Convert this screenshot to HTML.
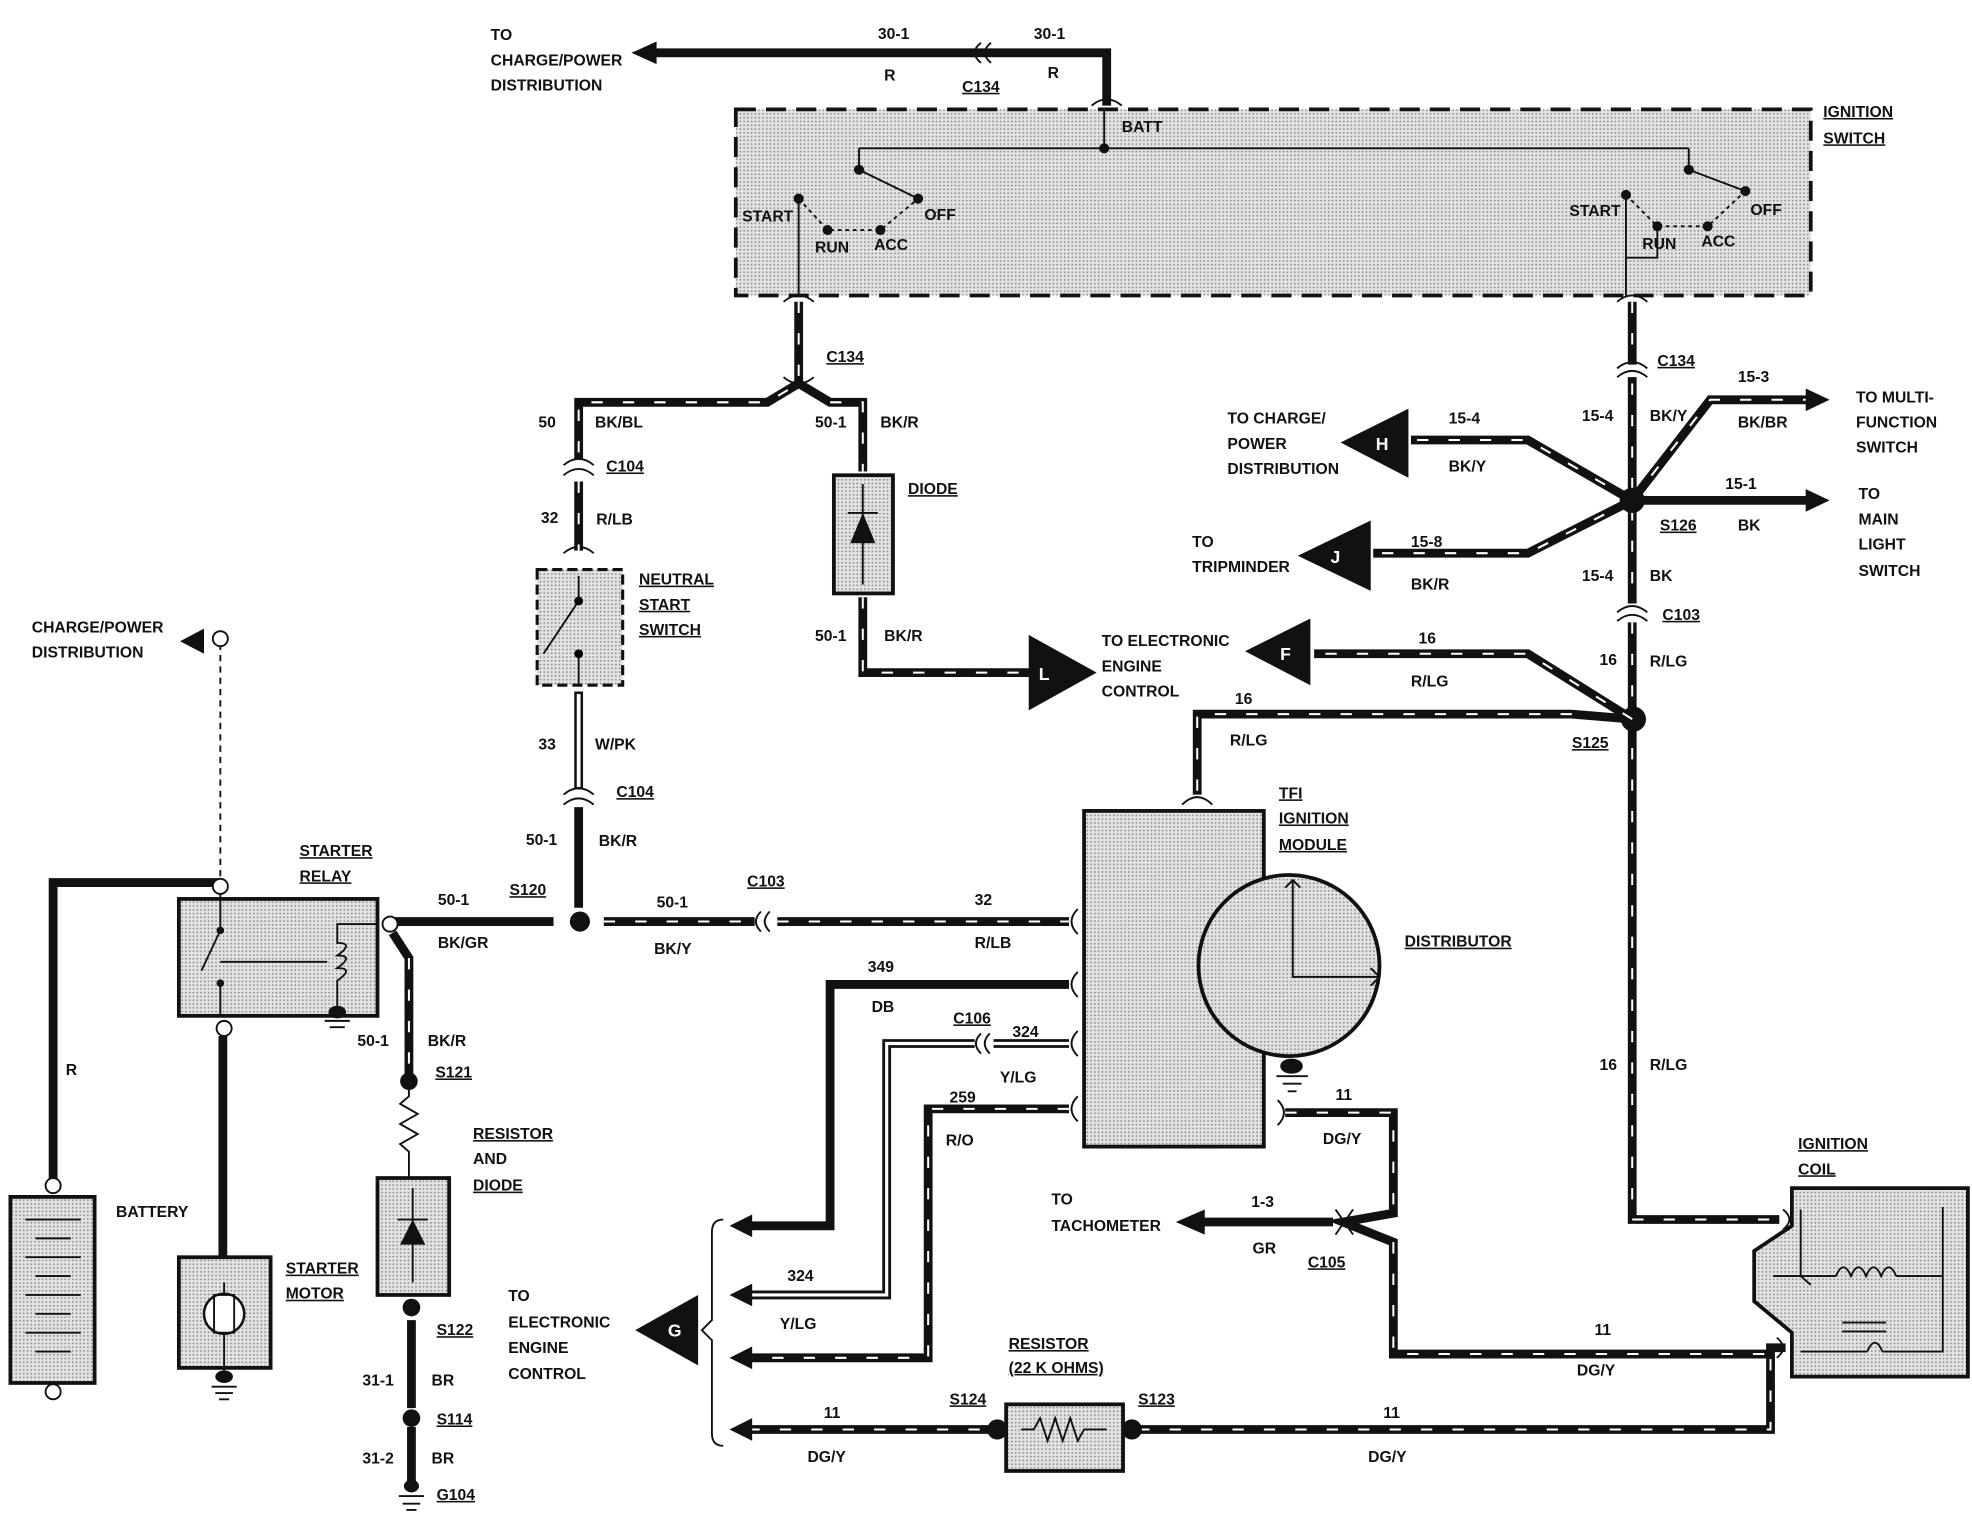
<!DOCTYPE html>
<html><head><meta charset="utf-8"><style>
html,body{margin:0;padding:0;background:#fff}
svg{display:block}
text{font-family:"Liberation Sans",sans-serif;font-weight:bold;font-size:12.5px;fill:#111}
.w{stroke:#111;stroke-width:7;fill:none;stroke-linejoin:miter}
.t{stroke:#fff;stroke-width:1.6;fill:none;stroke-dasharray:9 16}
.th{stroke:#111;stroke-width:1.5;fill:none}
.box{fill:url(#dots);stroke:#111;stroke-width:3}
.u{text-decoration:underline}
</style></head><body>
<svg width="1972" height="1520" viewBox="0 0 1568 1209" xmlns="http://www.w3.org/2000/svg">
<defs>
<pattern id="dots" width="3" height="3" patternUnits="userSpaceOnUse"><rect width="3" height="3" fill="#e2e2e2"/><rect width="1.2" height="1.2" fill="#888"/></pattern>
</defs>

<!-- Ignition switch -->
<rect x="585" y="87" width="855" height="148" fill="url(#dots)" stroke="#111" stroke-width="3" stroke-dasharray="16 8"/>
<text x="1450" y="93" class="u">IGNITION</text><text x="1450" y="114" class="u">SWITCH</text>
<path class="th" d="M878 118V88M683 118H1343M683 118V135L730 158M1343 118V135L1388 152"/>
<path class="th" stroke-dasharray="3 3" d="M635 158L658 183H700L730 158M1293 155L1318 180H1358L1388 152"/>
<g fill="#111"><circle cx="635" cy="158" r="4"/><circle cx="658" cy="183" r="4"/><circle cx="700" cy="183" r="4"/><circle cx="730" cy="158" r="4"/><circle cx="878" cy="118" r="4"/><circle cx="683" cy="135" r="4"/>
<circle cx="1293" cy="155" r="4"/><circle cx="1318" cy="180" r="4"/><circle cx="1358" cy="180" r="4"/><circle cx="1388" cy="152" r="4"/><circle cx="1343" cy="135" r="4"/></g>
<path class="th" d="M635 158V235M1293 155V235M1293 205H1318V180"/>
<text x="590" y="176">START</text><text x="648" y="201">RUN</text><text x="695" y="199">ACC</text><text x="735" y="175">OFF</text>
<text x="1248" y="172">START</text><text x="1306" y="198">RUN</text><text x="1353" y="196">ACC</text><text x="1392" y="171">OFF</text>
<text x="892" y="105">BATT</text>

<!-- top wire -->
<path class="w" d="M880 84V42H520"/>
<polygon points="502,42 522,33 522,51" fill="#111"/>
<path class="th" stroke-width="3" d="M780 34q-10 8 0 16M788 34q-10 8 0 16M868 84q12-10 24 0"/>
<text x="390" y="32">TO</text><text x="390" y="52">CHARGE/POWER</text><text x="390" y="72">DISTRIBUTION</text>
<text x="698" y="31">30-1</text><text x="822" y="31">30-1</text><text x="703" y="64">R</text><text x="833" y="62">R</text><text x="765" y="73" class="u">C134</text>

<!-- left column -->
<path class="w" d="M635 240V305L610 320H460V365M635 305L660 320H686V375"/>
<path class="t" d="M635 240V305L610 320H460V365M660 320H686V375"/>
<path class="th" stroke-width="3" d="M623 240q12-10 24 0M623 300q12 10 24 0M623 310q12-10 24 0M448 370q12-10 24 0M448 378q12-10 24 0M448 440q12-10 24 0"/>
<text x="657" y="288" class="u">C134</text><text x="428" y="340">50</text><text x="473" y="340">BK/BL</text><text x="648" y="340">50-1</text><text x="700" y="340">BK/R</text>
<path class="w" d="M460 383V438"/><path class="t" d="M460 383V438"/>
<text x="482" y="375" class="u">C104</text><text x="430" y="416">32</text><text x="474" y="417">R/LB</text>
<rect x="427" y="453" width="68" height="92" fill="url(#dots)" stroke="#111" stroke-width="2.5" stroke-dasharray="8 4"/>
<path class="th" d="M460 458V478M460 478L432 520M460 520V545"/><circle cx="460" cy="478" r="3.5"/><circle cx="460" cy="520" r="3.5"/>
<text x="508" y="465" class="u">NEUTRAL</text><text x="508" y="485" class="u">START</text><text x="508" y="505" class="u">SWITCH</text>
<path class="w" d="M460 550V628"/><path stroke="#fff" stroke-width="3" d="M460 552V626"/>
<path class="th" stroke-width="3" d="M448 632q12-10 24 0M448 640q12-10 24 0"/>
<path class="w" d="M460 642V722"/>
<text x="428" y="596">33</text><text x="473" y="596">W/PK</text><text x="490" y="634" class="u">C104</text>
<text x="418" y="672">50-1</text><text x="476" y="673">BK/R</text>
<circle cx="461" cy="733" r="8" fill="#111"/><text x="405" y="712" class="u">S120</text>

<!-- diode -->
<rect x="663" y="378" width="47" height="94" class="box"/>
<polygon points="686,408 676,432 696,432" fill="#111"/><path class="th" stroke-width="2" d="M674 408H698M686 385V465"/>
<text x="722" y="393" class="u">DIODE</text>
<path class="w" d="M686 475V535H820"/><path class="t" d="M686 475V535H820"/>
<text x="648" y="510">50-1</text><text x="703" y="510">BK/R</text>
<polygon points="818,505 818,565 872,535" fill="#111"/><text x="826" y="541" style="fill:#fff;font-size:14px">L</text>
<text x="876" y="514">TO ELECTRONIC</text><text x="876" y="534">ENGINE</text><text x="876" y="554">CONTROL</text>

<!-- right column -->
<path class="w" d="M1298 240V290M1298 300V480M1298 495V970H1415"/>
<path class="t" d="M1298 240V290M1298 305V480M1298 495V970H1415"/>
<path class="th" stroke-width="3" d="M1286 240q12-10 24 0M1286 293q12-10 24 0M1286 300q12-10 24 0M1286 487q12-10 24 0M1286 494q12-10 24 0"/>
<path class="w" d="M1298 398L1215 350H1122M1298 398L1215 440H1092M1298 398L1360 318H1440M1298 398H1440"/>
<path class="t" d="M1298 398L1215 350H1122M1298 398L1215 440H1092M1298 398L1360 318H1440"/>
<polygon points="1455,318 1436,309 1436,327" fill="#111"/><polygon points="1455,398 1436,389 1436,407" fill="#111"/>
<circle cx="1298" cy="398" r="10" fill="#111"/>
<polygon points="1066,352 1120,325 1120,380" fill="#111"/><text x="1094" y="358" style="fill:#fff;font-size:14px">H</text>
<polygon points="1032,442 1090,414 1090,470" fill="#111"/><text x="1058" y="448" style="fill:#fff;font-size:14px">J</text>
<text x="1318" y="291" class="u">C134</text><text x="1258" y="335">15-4</text><text x="1312" y="335">BK/Y</text>
<text x="1382" y="304">15-3</text><text x="1382" y="340">BK/BR</text><text x="1476" y="320">TO MULTI-</text><text x="1476" y="340">FUNCTION</text><text x="1476" y="360">SWITCH</text>
<text x="1372" y="389">15-1</text><text x="1382" y="422">BK</text><text x="1478" y="397">TO</text><text x="1478" y="417">MAIN</text><text x="1478" y="437">LIGHT</text><text x="1478" y="458">SWITCH</text>
<text x="1320" y="422" class="u">S126</text>
<text x="976" y="337">TO CHARGE/</text><text x="976" y="357">POWER</text><text x="976" y="377">DISTRIBUTION</text>
<text x="1152" y="337">15-4</text><text x="1152" y="375">BK/Y</text>
<text x="948" y="435">TO</text><text x="948" y="455">TRIPMINDER</text><text x="1122" y="435">15-8</text><text x="1122" y="469">BK/R</text>
<text x="1258" y="462">15-4</text><text x="1312" y="462">BK</text><text x="1322" y="493" class="u">C103</text>
<text x="1272" y="529">16</text><text x="1312" y="530">R/LG</text>
<circle cx="1299" cy="572" r="10" fill="#111"/><text x="1250" y="595" class="u">S125</text>
<path class="w" d="M1298 572L1215 520H1045M1298 572L1250 568H952V632"/>
<path class="t" d="M1298 572L1215 520H1045M1250 568H952V632"/>
<polygon points="990,518 1042,492 1042,545" fill="#111"/><text x="1018" y="525" style="fill:#fff;font-size:14px">F</text>
<text x="1128" y="512">16</text><text x="1122" y="546">R/LG</text><text x="982" y="560">16</text><text x="978" y="593">R/LG</text>
<path class="th" stroke-width="3" d="M940 640q12-12 24 0"/>
<text x="1272" y="851">16</text><text x="1312" y="851">R/LG</text>

<!-- TFI -->
<rect x="862" y="645" width="143" height="267" class="box"/>
<circle cx="1025" cy="768" r="72" class="box"/>
<path class="th" stroke-width="2" d="M1028 700V777H1097M1022 706L1028 700L1034 706M1090 770L1097 777L1090 784"/>
<ellipse cx="1027" cy="848" rx="9" ry="6" fill="#111"/><path class="th" stroke-width="2" d="M1015 856H1040M1020 862H1035M1024 868H1031"/>
<text x="1017" y="635" class="u">TFI</text><text x="1017" y="655" class="u">IGNITION</text><text x="1017" y="676" class="u">MODULE</text>
<text x="1117" y="753" class="u">DISTRIBUTOR</text>

<!-- left TFI wires -->
<path class="w" d="M310 733H440M480 733H600M618 733H850"/><path class="t" d="M480 733H600M618 733H850"/>
<path class="th" stroke-width="3" d="M605 725q-8 8 0 16M612 725q-8 8 0 16M857 723q-10 10 0 20"/>
<text x="348" y="720">50-1</text><text x="348" y="754">BK/GR</text><text x="522" y="722">50-1</text><text x="520" y="759">BK/Y</text><text x="594" y="705" class="u">C103</text><text x="775" y="720">32</text><text x="775" y="754">R/LB</text>
<path class="w" d="M850 783H660V975H595"/><polygon points="580,975 598,966 598,984" fill="#111"/>
<path class="th" stroke-width="3" d="M857 773q-10 10 0 20"/>
<text x="690" y="773">349</text><text x="693" y="805">DB</text>
<path class="w" d="M850 830H790M775 830H705V1030H595"/><path stroke="#fff" stroke-width="2.5" fill="none" d="M850 830H790M775 830H705V1030H595"/>
<polygon points="580,1030 598,1021 598,1039" fill="#111"/>
<path class="th" stroke-width="3" d="M780 822q-8 8 0 16M787 822q-8 8 0 16M857 820q-10 10 0 20"/>
<text x="758" y="814" class="u">C106</text><text x="805" y="825">324</text><text x="795" y="861">Y/LG</text><text x="626" y="1019">324</text><text x="620" y="1057">Y/LG</text>
<path class="w" d="M850 882H738V1080H595"/><path class="t" d="M850 882H738V1080H595"/><polygon points="580,1080 598,1071 598,1089" fill="#111"/>
<path class="th" stroke-width="3" d="M857 872q-10 10 0 20"/>
<text x="755" y="877">259</text><text x="752" y="911">R/O</text>
<path class="w" d="M595 1137H800M905 1137H1408V1072H1420"/><path class="t" d="M595 1137H800M905 1137H1408V1072"/>
<polygon points="580,1137 598,1128 598,1146" fill="#111"/>
<text x="655" y="1128">11</text><text x="642" y="1163">DG/Y</text><text x="1100" y="1128">11</text><text x="1088" y="1163">DG/Y</text>
<text x="755" y="1117" class="u">S124</text><text x="905" y="1117" class="u">S123</text>
<rect x="800" y="1117" width="93" height="53" class="box"/>
<path class="th" stroke-width="2" d="M812 1137H822L827 1128L833 1146L839 1128L845 1146L851 1128L857 1146L862 1137H880"/>
<circle cx="793" cy="1137" r="8" fill="#111"/><circle cx="900" cy="1137" r="8" fill="#111"/>
<text x="802" y="1073" class="u">RESISTOR</text><text x="802" y="1092" class="u">(22 K OHMS)</text>
<path class="th" stroke-width="2" d="M575 970Q566 970 566 980V1050L558 1058L566 1066V1140Q566 1150 575 1150"/>
<polygon points="505,1058 555,1030 555,1086" fill="#111"/><text x="531" y="1063" style="fill:#fff;font-size:14px">G</text>
<text x="404" y="1035">TO</text><text x="404" y="1056">ELECTRONIC</text><text x="404" y="1076">ENGINE</text><text x="404" y="1097">CONTROL</text>

<!-- 11 distributor / tach -->
<path class="w" d="M1022 885H1108V965L1068 972L1108 988V1077H1410"/><path class="t" d="M1022 885H1108V965M1108 988V1077H1410"/>
<path class="th" stroke-width="3" d="M1016 875q10 10 0 20M1062 962l14 20M1062 982l14-20"/>
<path class="w" d="M1060 972H955"/><polygon points="935,972 958,962 958,982" fill="#111"/>
<text x="1062" y="875">11</text><text x="1052" y="910">DG/Y</text><text x="836" y="958">TO</text><text x="836" y="979">TACHOMETER</text>
<text x="995" y="960">1-3</text><text x="996" y="997">GR</text><text x="1040" y="1008" class="u">C105</text>
<text x="1268" y="1062">11</text><text x="1254" y="1094">DG/Y</text>

<!-- ignition coil -->
<path d="M1425 945H1565V1095H1425V1060L1395 1035V995L1425 975Z" class="box"/>
<path class="th" stroke-width="2" d="M1432 962V1015M1410 1015H1460M1432 1015L1440 1022M1508 1015H1545V960M1432 1075H1485M1497 1075H1545V1015M1465 1052H1500M1465 1059H1500"/>
<path class="th" stroke-width="2" d="M1460 1015q6-14 12 0q6-14 12 0q6-14 12 0q6-14 12 0M1485 1075q6-14 12 0"/>
<path class="th" stroke-width="3" d="M1418 962q10 8 0 16M1413 1064q10 8 0 16"/>
<text x="1430" y="914" class="u">IGNITION</text><text x="1430" y="934" class="u">COIL</text>

<!-- starter relay area -->
<rect x="142" y="715" width="158" height="93" class="box"/>
<path class="w" d="M42 940V702H175"/>
<path class="th" stroke-dasharray="5 4" d="M175 512V700"/>
<circle cx="175" cy="508" r="6" fill="#fff" stroke="#111" stroke-width="1.5"/>
<polygon points="143,510 162,500 162,520" fill="#111"/>
<text x="25" y="503">CHARGE/POWER</text><text x="25" y="523">DISTRIBUTION</text>
<circle cx="175" cy="705" r="6" fill="#fff" stroke="#111" stroke-width="1.5"/>
<path class="th" stroke-width="2" d="M175 711V740M175 740L160 772M175 782V808M175 765H260" />
<circle cx="175" cy="740" r="3" fill="#111"/><circle cx="175" cy="782" r="3" fill="#111"/>
<path class="th" stroke-width="2" d="M300 735H268V750q14 0 0 10q14 0 0 10q14 0 0 10V800"/>
<ellipse cx="268" cy="805" rx="7" ry="5" fill="#111"/><path class="th" stroke-width="2" d="M258 812H278M262 817H274"/>
<text x="238" y="681" class="u">STARTER</text><text x="238" y="701" class="u">RELAY</text>
<circle cx="178" cy="818" r="6" fill="#fff" stroke="#111" stroke-width="1.5"/>
<path class="w" d="M177 824V1000"/>
<circle cx="310" cy="735" r="6" fill="#fff" stroke="#111" stroke-width="1.5"/>
<path class="w" d="M312 742L325 762V855"/><path class="t" d="M325 762V852"/>
<text x="284" y="832">50-1</text><text x="340" y="832">BK/R</text>
<circle cx="325" cy="860" r="7" fill="#111"/><text x="346" y="857" class="u">S121</text>
<path class="th" stroke-width="2" d="M325 866V872L318 878L332 886L318 894L332 902L318 910L325 916V937"/>
<rect x="300" y="937" width="57" height="93" class="box"/>
<polygon points="328,970 318,990 338,990" fill="#111"/><path class="th" stroke-width="2" d="M316 970H340M328 945V1020"/>
<text x="376" y="906" class="u">RESISTOR</text><text x="376" y="926">AND</text><text x="376" y="947" class="u">DIODE</text>
<circle cx="327" cy="1040" r="7" fill="#111"/><text x="347" y="1062" class="u">S122</text>
<path class="w" d="M327 1050V1120M327 1135V1178"/>
<text x="288" y="1102">31-1</text><text x="343" y="1102">BR</text>
<circle cx="327" cy="1128" r="7" fill="#111"/><text x="347" y="1133" class="u">S114</text>
<text x="288" y="1164">31-2</text><text x="343" y="1164">BR</text>
<ellipse cx="327" cy="1182" rx="6" ry="5" fill="#111"/><path class="th" stroke-width="2" d="M317 1190H337M320 1196H334M323 1201H331"/>
<text x="347" y="1193" class="u">G104</text>
<text x="52" y="855">R</text>

<!-- battery -->
<rect x="8" y="952" width="67" height="148" class="box"/>
<circle cx="42" cy="943" r="6" fill="#fff" stroke="#111" stroke-width="1.5"/>
<circle cx="42" cy="1107" r="6" fill="#fff" stroke="#111" stroke-width="1.5"/>
<path class="th" stroke-width="2.5" d="M20 970H64M28 985H56M20 1000H64M28 1015H56M20 1030H64M28 1045H56M20 1060H64M28 1075H56"/>
<text x="92" y="968">BATTERY</text>

<!-- starter motor -->
<rect x="142" y="1000" width="73" height="88" class="box"/>
<circle cx="178" cy="1045" r="16" fill="#fff" stroke="#111" stroke-width="2"/>
<rect x="170" y="1030" width="16" height="30" fill="none" stroke="#111" stroke-width="1.5"/>
<path class="th" stroke-width="2" d="M178 1020V1029M178 1061V1090"/>
<ellipse cx="178" cy="1095" rx="7" ry="5" fill="#111"/><path class="th" stroke-width="2" d="M168 1103H188M171 1108H185M174 1113H182"/>
<text x="227" y="1013" class="u">STARTER</text><text x="227" y="1033" class="u">MOTOR</text>
</svg>
</body></html>
